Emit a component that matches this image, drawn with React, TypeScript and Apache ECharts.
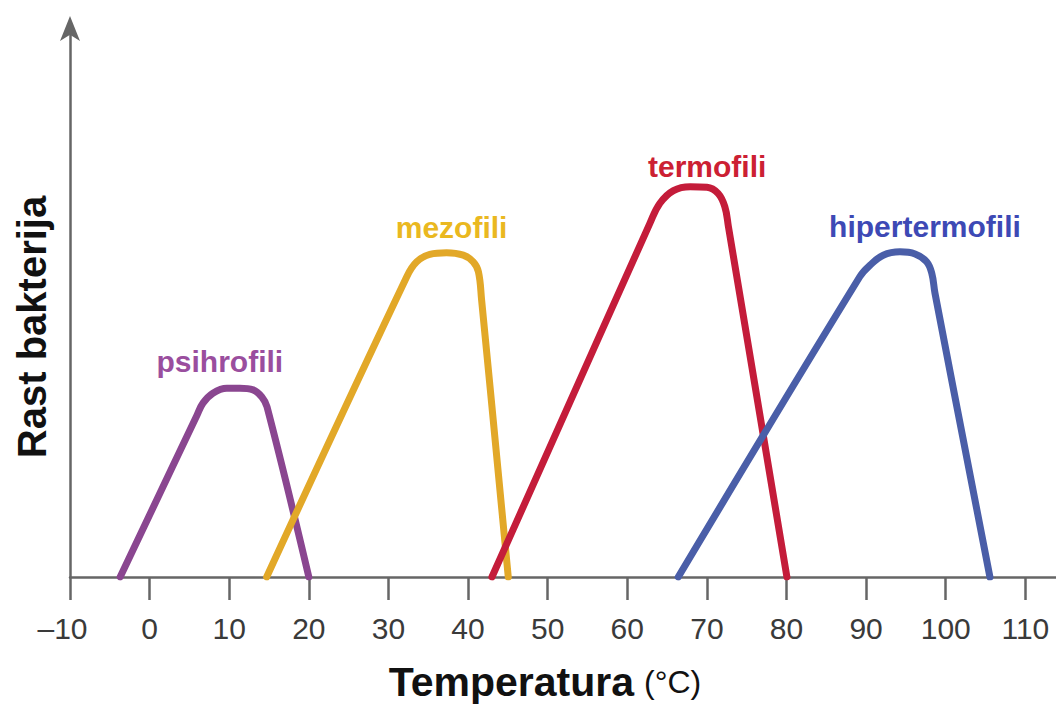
import React, { useEffect, useRef } from "react";
import * as echarts from "echarts";

// Temperature (°C) / growth pairs
const psihrofiliX = [-3.7, 5.95, 6.7, 7.95, 9.7, 11.35, 13.0, 14.1, 14.75, 20.0];
const psihrofiliY = [0, 29.3, 31.5, 33.3, 34.2, 34.2, 33.9, 32.6, 30.8, 0];

const mezofiliX = [14.7, 32.3, 33.55, 35.2, 37.3, 39.4, 40.65, 41.3, 41.7, 45.05];
const mezofiliY = [0, 54.4, 57.1, 58.45, 58.75, 58.3, 57.1, 55.3, 50.2, 0];

const termofiliX = [43.0, 62.85, 64.1, 65.8, 67.9, 70.0, 71.4, 72.25, 72.7, 80.05];
const termofiliY = [0, 64.1, 67.7, 70.0, 70.7, 70.6, 69.5, 67.1, 63.5, 0];

const hipertermofiliX = [66.4, 89.2, 90.5, 92.15, 94.25, 96.15, 97.6, 98.25, 98.65, 105.55];
const hipertermofiliY = [0, 54.4, 56.5, 58.3, 58.9, 58.5, 57.1, 55.0, 51.4, 0];

const tickValues = [-10, 0, 10, 20, 30, 40, 50, 60, 70, 80, 90, 100, 110];

const seriesNames = ["psihrofili", "mezofili", "termofili", "hipertermofili"];
const lineColors = ["#8a4690", "#e2a828", "#c41c3a", "#4a5ea8"];
const textColors = ["#9a4e9e", "#eab820", "#cc2033", "#3d49b5"];
const peakIndex = [4, 4, 4, 4];
const labelOffsetX = [-7, 5, 17, 25];
const labelDistance = [12, 10, 5, 10];

const FONT = "'Liberation Sans', Arial, Helvetica, sans-serif";

export default function App() {
  const ref = useRef<HTMLDivElement>(null);

  useEffect(() => {
    if (!ref.current) return;
    const chart = echarts.init(ref.current, null, { renderer: "svg" });
    const xs = [psihrofiliX, mezofiliX, termofiliX, hipertermofiliX];
    const ys = [psihrofiliY, mezofiliY, termofiliY, hipertermofiliY];

    const series = seriesNames.map((name, s) => ({
      type: "line",
      name,
      smooth: 0.4,
      showSymbol: false,
      symbol: "none",
      lineStyle: { color: lineColors[s], width: 7, cap: "round", join: "round" },
      data: xs[s].map((x, i) => [x, ys[s][i]]),
      markPoint: {
        symbol: "circle",
        symbolSize: 0,
        silent: true,
        data: [
          {
            coord: [xs[s][peakIndex[s]], ys[s][peakIndex[s]]],
            label: {
              show: true,
              position: "top",
              distance: labelDistance[s],
              offset: [labelOffsetX[s], 0],
              formatter: name,
              color: textColors[s],
              fontSize: 30,
              fontWeight: "bold",
              fontFamily: FONT,
            },
          },
        ],
      },
    }));

    chart.setOption({
      animation: false,
      backgroundColor: "#ffffff",
      grid: { left: 70, right: 0, top: 25, bottom: 127, containLabel: false, outerBoundsMode: "none" },
      xAxis: {
        type: "value",
        min: -10,
        max: 113.85,
        name: "{b|Temperatura}{n|(°C)}",
        nameLocation: "middle",
        nameGap: 88,
        nameTextStyle: {
          padding: [0, 36, 0, 0],
          lineHeight: 34,
          rich: {
            b: { fontSize: 41, lineHeight: 34, fontWeight: "bold", color: "#111", fontFamily: FONT },
            n: { fontSize: 32, lineHeight: 34, color: "#111", fontFamily: FONT, padding: [0, 0, 0, 10] },
          },
        },
        axisLine: { show: true, onZero: false, lineStyle: { color: "#666", width: 2.5 } },
        axisTick: {
          show: true,
          customValues: tickValues,
          length: 23,
          lineStyle: { color: "#666", width: 2.5 },
        },
        axisLabel: {
          customValues: tickValues,
          margin: 36,
          fontSize: 30,
          color: "#3a3a3a",
          fontFamily: FONT,
          formatter: (v: number) => (v < 0 ? `–${-v}{pad|}` : `${v}`),
          rich: { pad: { width: 15 } },
        },
        splitLine: { show: false },
      },
      yAxis: {
        type: "value",
        min: 0,
        max: 100,
        name: "Rast bakterija",
        nameLocation: "middle",
        nameGap: 18,
        nameTextStyle: {
          fontSize: 40,
          fontWeight: "bold",
          color: "#111",
          fontFamily: FONT,
          padding: [0, 52, 0, 0],
        },
        axisLine: {
          show: true,
          onZero: false,
          symbol: ["none", "arrow"],
          symbolSize: [15, 25],
          symbolOffset: [0, 9],
          lineStyle: { color: "#666", width: 2.5 },
        },
        axisTick: { show: false },
        axisLabel: { show: false },
        splitLine: { show: false },
      },
      series,
    });

    return () => chart.dispose();
  }, []);

  return (
    <div
      ref={ref}
      style={{ position: "fixed", left: 0, top: 0, width: 1056, height: 704, background: "#fff" }}
    />
  );
}
